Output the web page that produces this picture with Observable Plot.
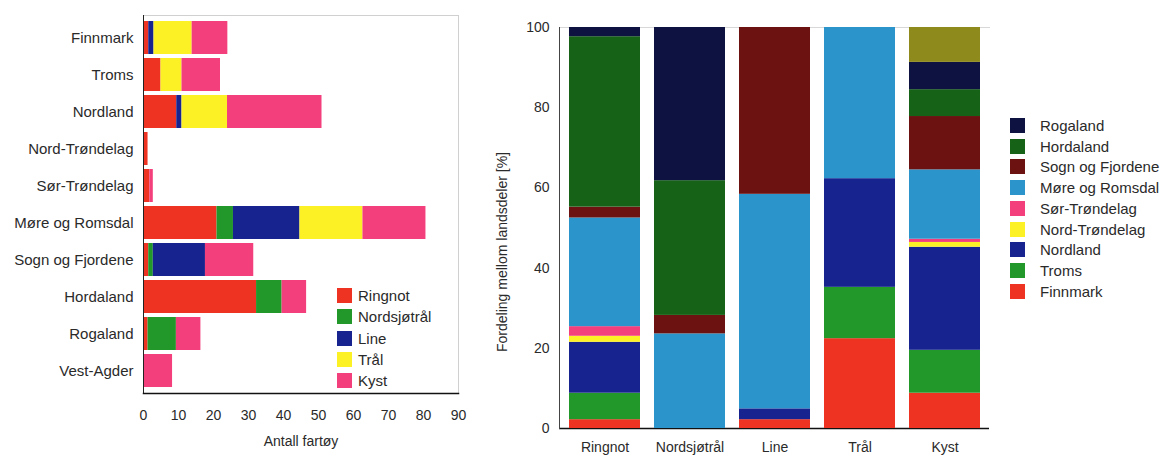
<!DOCTYPE html>
<html>
<head>
<meta charset="utf-8">
<script src="https://cdn.jsdelivr.net/npm/d3@7"></script>
<script src="https://cdn.jsdelivr.net/npm/@observablehq/plot@0.6"></script>
<style>
  html, body { margin: 0; padding: 0; background: #fff; }
  #wrap { position: relative; width: 1163px; height: 457px; font-family: "Liberation Sans", Arial, sans-serif; color: #2a2a2a; overflow: hidden; }
  #left, #right { position: absolute; top: 0; }
  #left { left: 0; }
  #right { left: 480px; }
  .legend { position: absolute; }
  .legend .row { position: absolute; display: flex; align-items: center; white-space: nowrap; color: #2a2a2a; }
  .legend .sw { display: inline-block; width: 15px; height: 15px; }
  #ylabel { position: absolute; left: 502px; top: 252px; transform: translate(-50%, -50%) rotate(-90deg); font-size: 14px; white-space: nowrap; color: #2a2a2a; }
</style>
</head>
<body>
<div id="wrap">
  <div id="left"></div>
  <div id="right"></div>
  <div id="legLeft" class="legend"></div>
  <div id="legRight" class="legend"></div>
  <div id="ylabel"></div>
</div>
<script>
// ---- data ----
const regions = ["Finnmark", "Troms", "Nordland", "Nord-Trøndelag", "Sør-Trøndelag",
  "Møre og Romsdal", "Sogn og Fjordene", "Hordaland", "Rogaland", "Vest-Agder"];
const gears = ["Ringnot", "Nordsjøtrål", "Line", "Trål", "Kyst"];

// Left chart: number of vessels per region (same order as regions)
const countRingnot     = [1.5, 5, 9.5, 1.3, 1.8, 21, 1.5, 32.3, 1.3, 0];
const countNordsjotral = [0, 0, 0, 0, 0, 4.7, 1.3, 7.3, 8.1, 0];
const countLine        = [1.5, 0, 1.5, 0, 0, 19, 14.9, 0, 0, 0];
const countTral        = [10.9, 6, 13, 0, 0, 18, 0, 0, 0, 0];
const countKyst        = [10.2, 11, 27, 0, 1, 18, 13.8, 7, 7, 8.3];

// Right chart: share (%) of each gear's vessels per region
const shareRingnot     = [2.2, 6.6, 12.7, 1.5, 2.4, 27.1, 2.7, 42.5, 2.3, 0];
const shareNordsjotral = [0, 0, 0, 0, 0, 23.6, 4.6, 33.6, 38.2, 0];
const shareLine        = [2.2, 0, 2.7, 0, 0, 53.5, 41.6, 0, 0, 0];
const shareTral        = [22.4, 12.8, 27.1, 0, 0, 37.7, 0, 0, 0, 0];
const shareKyst        = [8.8, 10.7, 25.7, 1.2, 0.8, 17.3, 13.3, 6.7, 6.8, 8.7];

const xTicksLeft = [0, 10, 20, 30, 40, 50, 60, 70, 80, 90];
const yTicksRight = [0, 20, 40, 60, 80, 100];

const xLabelLeft = "Antall fartøy";
const yLabelRight = "Fordeling mellom landsdeler [%]";

// legend order for the right chart (top to bottom)
const rightLegend = ["Rogaland", "Hordaland", "Sogn og Fjordene", "Møre og Romsdal",
  "Sør-Trøndelag", "Nord-Trøndelag", "Nordland", "Troms", "Finnmark"];

// ---- styles ----
const gearColors = ["#ee3323", "#22982a", "#17248f", "#fbf124", "#f33f7c"];
const regionColors = ["#ee3323", "#22982a", "#17248f", "#fbf124", "#f33f7c",
  "#2b95cb", "#6c1210", "#166318", "#0e1240", "#8e8a1c"];

const counts = [countRingnot, countNordsjotral, countLine, countTral, countKyst];
const shares = [shareRingnot, shareNordsjotral, shareLine, shareTral, shareKyst];

const leftRows = [];
gears.forEach((g, gi) => regions.forEach((r, ri) => {
  if (counts[gi][ri] > 0) leftRows.push({gear: g, region: r, value: counts[gi][ri]});
}));
const rightRows = [];
gears.forEach((g, gi) => regions.forEach((r, ri) => {
  if (shares[gi][ri] > 0) rightRows.push({gear: g, region: r, share: shares[gi][ri]});
}));

const font = "'Liberation Sans', Arial, sans-serif";

const left = Plot.plot({
  width: 480, height: 457,
  marginLeft: 143, marginRight: 22, marginTop: 15, marginBottom: 64,
  style: {fontFamily: font, fontSize: "13px", color: "#2a2a2a", background: "white"},
  x: {domain: [0, 90]},
  y: {domain: regions, padding: 0.12},
  color: {domain: gears, range: gearColors},
  marks: [
    Plot.frame({stroke: "#d0d0d0"}),
    Plot.barX(leftRows, Plot.stackX({x: "value", y: "region", fill: "gear"})),
    Plot.ruleX([0], {stroke: "#222"}),
    Plot.frame({anchor: "bottom", stroke: "#111", strokeWidth: 1.5}),
    Plot.axisY({tickSize: 0, tickPadding: 10, label: null, fontSize: 15}),
    Plot.axisX({ticks: xTicksLeft, tickSize: 0, tickPadding: 17, fontSize: 14,
      label: xLabelLeft, labelAnchor: "center", labelOffset: 52, labelArrow: "none"})
  ]
});
document.getElementById("left").appendChild(left);

const right = Plot.plot({
  width: 520, height: 457,
  marginLeft: 79, marginRight: 11, marginTop: 27, marginBottom: 29,
  style: {fontFamily: font, fontSize: "13px", color: "#2a2a2a", background: "white"},
  x: {domain: gears, paddingInner: 0.17, paddingOuter: 0.09},
  y: {domain: [0, 100]},
  color: {domain: regions, range: regionColors},
  marks: [
    Plot.frame({anchor: "top", stroke: "#d8d8d8"}),
    Plot.ruleY([0], {stroke: "#111", strokeWidth: 1.5}),
    Plot.barY(rightRows, Plot.stackY({x: "gear", y: "share", fill: "region"})),
    Plot.frame({anchor: "left", stroke: "#444"}),
    Plot.axisX({tickSize: 0, tickPadding: 14, label: null, fontSize: 14}),
    Plot.axisY({ticks: yTicksRight, tickSize: 0, tickPadding: 10, fontSize: 14, label: null})
  ]
});
document.getElementById("right").appendChild(right);
document.getElementById("ylabel").textContent = yLabelRight;

// ---- legends ----
const legLeft = document.getElementById("legLeft");
gears.forEach((g, i) => {
  const row = document.createElement("div");
  row.className = "row";
  row.style.left = "337px";
  row.style.top = (287 + i * 21.3) + "px";
  row.style.fontSize = "15px";
  row.innerHTML = `<span class="sw" style="background:${gearColors[i]}"></span><span style="margin-left:6px">${g}</span>`;
  legLeft.appendChild(row);
});
const legRight = document.getElementById("legRight");
rightLegend.forEach((r, i) => {
  const row = document.createElement("div");
  row.className = "row";
  row.style.left = "1010px";
  row.style.top = (117 + i * 20.7) + "px";
  row.style.fontSize = "15px";
  const c = regionColors[regions.indexOf(r)];
  row.innerHTML = `<span class="sw" style="background:${c}"></span><span style="margin-left:15px">${r}</span>`;
  legRight.appendChild(row);
});
</script>
</body>
</html>
